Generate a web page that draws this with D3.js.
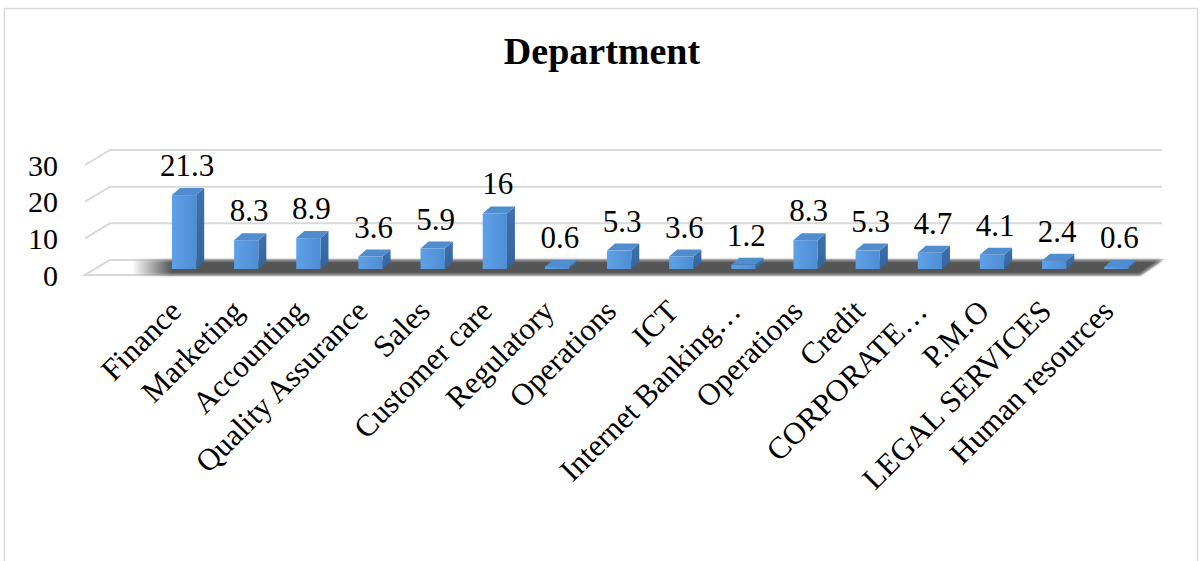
<!DOCTYPE html>
<html>
<head>
<meta charset="utf-8">
<script src="https://cdn.jsdelivr.net/npm/d3@7"></script>
<style>
  html, body { margin: 0; padding: 0; background: #ffffff; }
  svg { display: block; }
  text { font-family: "Liberation Serif", "Times New Roman", serif; fill: #000; }
</style>
</head>
<body>
<script>
// Department breakdown (%)
const categories = [
  "Finance", "Marketing", "Accounting", "Quality Assurance", "Sales",
  "Customer care", "Regulatory", "Operations", "ICT", "Internet Banking…",
  "Operations", "Credit", "CORPORATE…", "P.M.O", "LEGAL SERVICES", "Human resources"
];
const values = [21.3, 8.3, 8.9, 3.6, 5.9, 16, 0.6, 5.3, 3.6, 1.2, 8.3, 5.3, 4.7, 4.1, 2.4, 0.6];
const tickValues = [0, 10, 20, 30];
const chartTitle = "Department";

const W = 1202, H = 561;
const svg = d3.select("body").append("svg").attr("width", W).attr("height", H);

// outer chart border
svg.append("rect")
  .attr("x", 4.5).attr("y", 8.5).attr("width", W - 9).attr("height", H + 20)
  .attr("fill", "#fff").attr("stroke", "#d9d9d9").attr("stroke-width", 1.5);

// 3D geometry
const depthX = 8, depthY = -7;          // bar depth offset
const wallLeft = 110, wallRight = 1162;  // back wall extent
const sideDX = -25, sideDY = 15;         // left side-wall slant

// scales
const x = d3.scaleBand()
  .domain(d3.range(categories.length))
  .range([153, 153 + 62.15 * categories.length])
  .paddingInner(0.61).paddingOuter(0.305);
const yBar = d3.scaleLinear().domain([0, 30]).range([269, 269 - 30 * 3.47]);
const yWall = d3.scaleLinear().domain([0, 30]).range([260, 150]);

const defs = svg.append("defs");
const front = defs.append("linearGradient").attr("id", "frontGrad")
  .attr("x1", 0).attr("x2", 1).attr("y1", 0).attr("y2", 0);
front.append("stop").attr("offset", 0).attr("stop-color", "#5fa1e6");
front.append("stop").attr("offset", 1).attr("stop-color", "#4d8dd4");
const sideG = defs.append("linearGradient").attr("id", "sideGrad")
  .attr("x1", 0).attr("x2", 0).attr("y1", 0).attr("y2", 1);
sideG.append("stop").attr("offset", 0).attr("stop-color", "#3e72ae");
sideG.append("stop").attr("offset", 1).attr("stop-color", "#33649c");
const shade = defs.append("linearGradient").attr("id", "floorShade")
  .attr("gradientUnits", "userSpaceOnUse")
  .attr("x1", 132).attr("x2", 172).attr("y1", 0).attr("y2", 0);
shade.append("stop").attr("offset", 0).attr("stop-color", "#555").attr("stop-opacity", 0);
shade.append("stop").attr("offset", 1).attr("stop-color", "#555").attr("stop-opacity", 1);
defs.append("filter").attr("id", "soft").attr("x", "-5%").attr("y", "-50%")
  .attr("width", "110%").attr("height", "200%")
  .append("feGaussianBlur").attr("stdDeviation", 1.6);

// gridlines: back wall + slanted side wall
const grid = svg.append("g");
tickValues.forEach(t => {
  const yy = yWall(t);
  grid.append("path")
    .attr("d", `M${wallLeft + sideDX},${yy + sideDY}L${wallLeft},${yy}L${wallRight},${yy}`)
    .attr("fill", "none").attr("stroke", "#d9d9d9").attr("stroke-width", 2);
});

// floor
const y0 = yWall(0);
const floorPts = [[wallLeft, y0], [wallRight, y0], [wallRight - 22, y0 + sideDY], [wallLeft + sideDX, y0 + sideDY]];
svg.append("polygon").attr("points", floorPts.map(p => p.join(",")).join(" "))
  .attr("fill", "#fff").attr("stroke", "#d9d9d9").attr("stroke-width", 2);
const shadowPts = [[128, y0], [wallRight, y0], [wallRight - 22, y0 + sideDY], [103, y0 + sideDY]];
svg.append("polygon").attr("points", shadowPts.map(p => p.join(",")).join(" "))
  .attr("fill", "url(#floorShade)").attr("filter", "url(#soft)");

// tick labels
svg.append("g").selectAll("text").data(tickValues).join("text")
  .attr("x", 58).attr("y", d => yWall(d) + sideDY)
  .attr("dy", "0.35em").attr("text-anchor", "end")
  .style("font-size", "30px").text(d => d);

// bars
const bw = x.bandwidth();
const bars = svg.append("g").selectAll("g").data(values).join("g");
bars.append("path") // side
  .attr("d", (d, i) => {
    const r = x(i) + bw, t = yBar(d), b = yBar(0);
    return `M${r},${t}L${r + depthX},${t + depthY}L${r + depthX},${b + depthY}L${r},${b}Z`;
  })
  .attr("fill", "url(#sideGrad)");
bars.append("path") // top
  .attr("d", (d, i) => {
    const l = x(i), r = x(i) + bw, t = yBar(d);
    return `M${l},${t}L${r},${t}L${r + depthX},${t + depthY}L${l + depthX},${t + depthY}Z`;
  })
  .attr("fill", "#4f8dcf");
bars.append("rect") // front
  .attr("x", (d, i) => x(i)).attr("y", d => yBar(d))
  .attr("width", bw).attr("height", d => yBar(0) - yBar(d))
  .attr("fill", "url(#frontGrad)");

// value labels
svg.append("g").selectAll("text").data(values).join("text")
  .attr("x", (d, i) => x(i) + bw / 2 + 3)
  .attr("y", d => yBar(d) + depthY - 12)
  .attr("text-anchor", "middle")
  .style("font-size", "31px")
  .text(d => d);

// category labels
svg.append("g").selectAll("text").data(categories).join("text")
  .attr("transform", (d, i) => `translate(${x(i) + bw / 2 - 1},313) rotate(-45)`)
  .attr("text-anchor", "end")
  .style("font-size", "31px")
  .text(d => d);

// title
svg.append("text")
  .attr("x", 602).attr("y", 64).attr("text-anchor", "middle")
  .style("font-size", "38px").style("font-weight", "bold")
  .text(chartTitle);
</script>
</body>
</html>
